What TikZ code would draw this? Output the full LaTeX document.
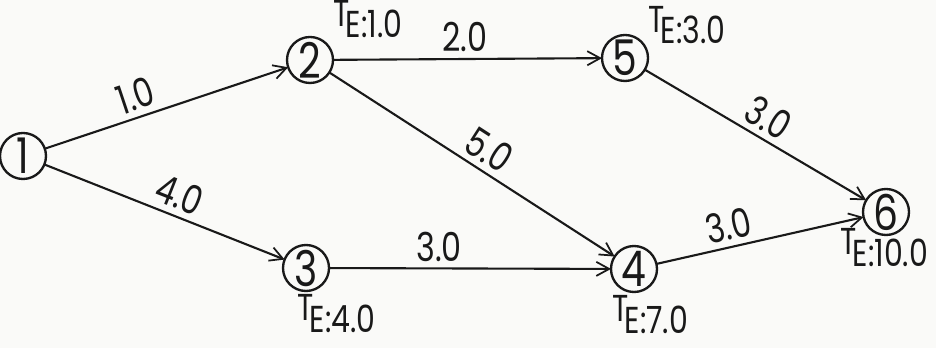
\documentclass[tikz,border=0pt]{standalone}
\usepackage{fontspec}
\setmainfont{Poppins}[FakeStretch=0.8]
\usetikzlibrary{arrows.meta}
\definecolor{ink}{RGB}{25,25,25}
\definecolor{paper}{RGB}{250,250,248}
\newcommand{\TElab}[1]{\raisebox{0.3em}{T}\kern-0.1em E:#1}
\begin{document}
\begin{tikzpicture}[x=0.03cm,y=-0.03cm,
  ev/.style={circle,draw=ink,text=ink,line width=2pt,minimum size=1.38cm,inner sep=0pt,outer sep=0pt,font=\fontsize{42}{42}\selectfont},
  act/.style={draw=ink,line width=1.8pt,-{Straight Barb[length=11pt,width=12pt,line width=1.5pt]}},
  lab/.style={text=ink,font=\fontsize{34}{34}\selectfont,inner sep=5pt},
  te/.style={text=ink,font=\fontsize{32}{32}\selectfont,inner sep=0pt,anchor=base west}]
\fill[paper] (0,0) rectangle (936,348);
\useasboundingbox (0,0) rectangle (936,348);
\node[ev] (n1) at (23,156) {1};
\node[ev] (n2) at (310,60) {2};
\node[ev] (n5) at (625,58) {5};
\node[ev] (n3) at (306,268) {3};
\node[ev] (n4) at (634,269) {4};
\node[ev] (n6) at (886,212) {6};
\draw[act] (n1) -- (n2) node[lab,pos=0.4,sloped,above] {1.0};
\draw[act] (n1) -- (n3) node[lab,pos=0.53,sloped,above] {4.0};
\draw[act] (n2) -- (n5) node[lab,pos=0.49,above] {2.0};
\draw[act] (n2) -- (n4) node[lab,pos=0.52,sloped,above] {5.0};
\draw[act] (n3) -- (n4) node[lab,pos=0.39,above] {3.0};
\draw[act] (n5) -- (n6) node[lab,pos=0.51,sloped,above] {3.0};
\draw[act] (n4) -- (n6) node[lab,pos=0.37,sloped,above] {3.0};
\node[te] (t2) at (333,38) {\TElab{1.0}};
\node[te] (t5) at (648,44) {\TElab{3.0}};
\node[te] (t3) at (297,332) {\TElab{4.0}};
\node[te] (t4) at (612,333) {\TElab{7.0}};
\node[te] (t6) at (840,266) {\TElab{10.0}};
\end{tikzpicture}
\end{document}
